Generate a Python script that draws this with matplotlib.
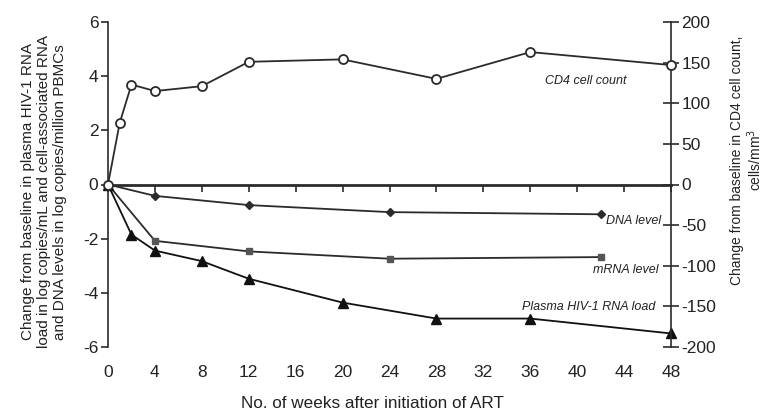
import matplotlib
matplotlib.use("Agg")
import matplotlib.pyplot as plt

plt.rcParams['font.family'] = ['Liberation Sans', 'DejaVu Sans']
plt.rcParams['axes.unicode_minus'] = False

# Data
cd4_weeks = [0, 1, 2, 4, 8, 12, 20, 28, 36, 48]
cd4_change = [0, 76, 123, 115, 121, 151, 154, 130, 163, 147]

dna_weeks = [0, 4, 12, 24, 42]
dna_change = [0, -0.42, -0.76, -1.02, -1.1]

mrna_weeks = [0, 4, 12, 24, 42]
mrna_change = [0, -2.08, -2.47, -2.74, -2.68]

plasma_weeks = [0, 2, 4, 8, 12, 20, 28, 36, 48]
plasma_change = [0, -1.85, -2.44, -2.83, -3.48, -4.36, -4.95, -4.95, -5.5]

x_ticks = list(range(0, 49, 4))
left_ticks = [-6, -4, -2, 0, 2, 4, 6]
right_ticks = [-200, -150, -100, -50, 0, 50, 100, 150, 200]

col = '#2b2b2b'
tcol = '#222222'
W, H = 764, 413
fig = plt.figure(figsize=(W / 100, H / 100), dpi=100)
ax = fig.add_axes([108 / W, 1 - 347 / H, (671 - 108) / W, (347 - 22) / H])
ax2 = ax.twinx()

ax.set_xlim(0, 48)
ax.set_ylim(-6, 6)
ax2.set_ylim(-200, 200)

lw = 1.3
ax.plot(dna_weeks, dna_change, color=col, lw=lw, marker='D', ms=4.5, mfc=col, mec=col, clip_on=False, zorder=3)
ax.plot(mrna_weeks, mrna_change, color=col, lw=lw, marker='s', ms=4.5, mfc='#555555', mec='#555555', clip_on=False, zorder=3)
ax.plot(plasma_weeks, plasma_change, color='#111111', lw=lw, marker='^', ms=7, mfc='#111111', mec='#111111', clip_on=False, zorder=3)
ax2.plot(cd4_weeks, cd4_change, color=col, lw=lw, marker='o', ms=6.5, mfc='white', mec=col, mew=1.3, clip_on=False, zorder=4)

# main axes: bottom spine moved to y = 0 with ticks hanging down, no labels
ax.spines['bottom'].set_position(('data', 0))
ax.spines['bottom'].set_linewidth(2)
ax.spines['bottom'].set_color(col)
ax.spines['top'].set_visible(False)
ax.spines['right'].set_visible(False)
ax.spines['left'].set_color(col)
ax.spines['left'].set_linewidth(1.2)
ax.set_xticks(x_ticks)
ax.tick_params(axis='x', direction='out', length=5, width=1.2, color=col, labelbottom=False)

# twin axes: right spine, and x tick labels at the bottom edge
for s in ['top', 'bottom', 'left']:
    ax2.spines[s].set_visible(False)
ax2.spines['right'].set_color(col)
ax2.spines['right'].set_linewidth(1.2)
ax2.xaxis.set_visible(True)
ax2.tick_params(axis='x', bottom=True, top=False, labelbottom=True, labeltop=False,
                length=0, labelsize=12.5, pad=13, labelcolor=tcol)

ax.set_yticks(left_ticks)
ax.tick_params(axis='y', direction='out', length=5, width=1.2, labelsize=12.5, color=col, labelcolor=tcol, pad=2)

ax2.set_yticks(right_ticks)
ax2.tick_params(axis='y', direction='inout', length=11, width=1.2, labelsize=12.5, color=col, labelcolor=tcol, pad=2)

fig.text(372 / W, 1 - 403 / H, 'No. of weeks after initiation of ART', fontsize=12.3, color=tcol,
         ha='center', va='center')
fig.text(44 / W, 1 - 192 / H,
         'Change from baseline in plasma HIV-1 RNA\nload in log copies/mL and cell-associated RNA\nand DNA levels in log copies/million PBMCs',
         fontsize=11, color=tcol, rotation=90, ha='center', va='center', multialignment='center',
         linespacing=1.2)
fig.text(747 / W, 1 - 160 / H, 'Change from baseline in CD4 cell count,\ncells/mm$^3$',
         fontsize=10, color=tcol, rotation=90, ha='center', va='center', multialignment='center',
         linespacing=1.15)

fs_ann = 9
ax.text(44.2, 3.84, 'CD4 cell count', style='italic', fontsize=fs_ann, ha='right', va='center', color=tcol)
ax.text(47.2, -1.33, 'DNA level', style='italic', fontsize=fs_ann, ha='right', va='center', color=tcol)
ax.text(46.9, -3.16, 'mRNA level', style='italic', fontsize=fs_ann, ha='right', va='center', color=tcol)
ax.text(46.7, -4.53, 'Plasma HIV-1 RNA load', style='italic', fontsize=fs_ann, ha='right', va='center', color=tcol)

fig.savefig('out.png', dpi=100)
